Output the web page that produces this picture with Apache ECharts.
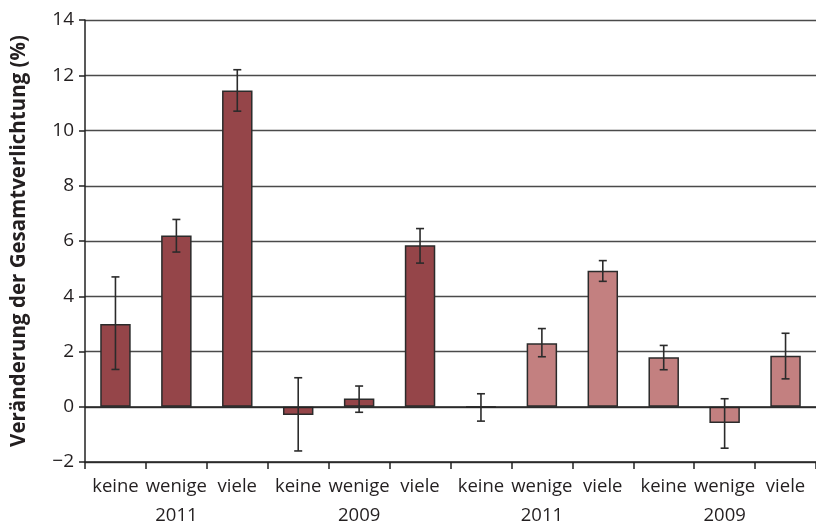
<!DOCTYPE html>
<html>
<head>
<meta charset="utf-8">
<script src="https://cdn.jsdelivr.net/npm/echarts@6/dist/echarts.min.js"></script>
<style>html,body{margin:0;padding:0;background:#fff;}#c{width:816px;height:527px;}</style>
</head>
<body>
<div id="c"></div>
<script>
var categories = ['keine','wenige','viele','keine','wenige','viele','keine','wenige','viele','keine','wenige','viele'];
var years = ['2011','2009','2011','2009'];
var values = [3.0, 6.2, 11.45, -0.3, 0.3, 5.85, -0.02, 2.3, 4.92, 1.79, -0.59, 1.85];
var errLow = [1.35, 5.6, 10.7, -1.6, -0.2, 5.2, -0.52, 1.81, 4.54, 1.34, -1.5, 1.01];
var errHigh = [4.7, 6.78, 12.2, 1.05, 0.75, 6.45, 0.47, 2.83, 5.29, 2.22, 0.29, 2.66];
var darkColor = '#954549';
var lightColor = '#c38080';

var barData = values.map(function (v, i) {
  return { value: v, itemStyle: { color: i < 6 ? darkColor : lightColor } };
});
var errData = values.map(function (v, i) { return [i, errLow[i], errHigh[i]]; });

var textColor = '#231f20';
var font = 'Open Sans';
var chart = echarts.init(document.getElementById('c'));
chart.setOption({
  animation: false,
  grid: { left: 85, top: 20, bottom: 65, width: 733 },
  xAxis: [{
    type: 'category',
    data: categories,
    position: 'bottom',
    axisLine: { onZero: false, lineStyle: { color: '#222', width: 1.5 } },
    axisTick: { show: true, alignWithLabel: false, length: 7, lineStyle: { color: '#222', width: 1.5 } },
    axisLabel: { color: textColor, fontSize: 18.5, fontFamily: font, margin: 15, interval: 0 },
    splitLine: { show: false }
  }, {
    type: 'category',
    data: years,
    position: 'bottom',
    offset: 29,
    axisLine: { show: false },
    axisTick: { show: false },
    axisLabel: { color: textColor, fontSize: 18.5, fontFamily: font, margin: 15, interval: 0 },
    splitLine: { show: false }
  }],
  yAxis: {
    type: 'value',
    min: -2, max: 14, interval: 2,
    name: 'Veränderung der Gesamtverlichtung (%)',
    nameLocation: 'middle',
    nameGap: 55,
    nameRotate: 90,
    nameTextStyle: { color: textColor, fontSize: 20.5, fontWeight: 'bold', fontFamily: font },
    axisLine: { show: true, lineStyle: { color: '#222', width: 1.5 } },
    axisTick: { show: true, length: 6, lineStyle: { color: '#222', width: 1.5 } },
    axisLabel: {
      color: textColor, fontSize: 19, fontFamily: font, margin: 11,
      formatter: function (v) { return String(v).replace('-', '\u2212'); }
    },
    splitLine: { show: true, lineStyle: { color: '#4a4a4a', width: 1.3 } }
  },
  series: [{
    type: 'bar',
    data: barData,
    barWidth: '50%',
    itemStyle: { borderColor: '#2b2b2b', borderWidth: 1.5 },
    markLine: {
      silent: true, symbol: 'none', label: { show: false },
      lineStyle: { color: '#222', width: 1.6, type: 'solid' },
      data: [{ yAxis: 0 }]
    },
    z: 2
  }, {
    type: 'custom',
    data: errData,
    z: 5,
    renderItem: function (params, api) {
      var i = api.value(0);
      var lo = api.coord([i, api.value(1)]);
      var hi = api.coord([i, api.value(2)]);
      var cap = 4;
      var st = { stroke: '#2b2b2b', lineWidth: 1.6 };
      return {
        type: 'group',
        children: [
          { type: 'line', shape: { x1: lo[0], y1: lo[1], x2: hi[0], y2: hi[1] }, style: st },
          { type: 'line', shape: { x1: lo[0] - cap, y1: lo[1], x2: lo[0] + cap, y2: lo[1] }, style: st },
          { type: 'line', shape: { x1: hi[0] - cap, y1: hi[1], x2: hi[0] + cap, y2: hi[1] }, style: st }
        ]
      };
    }
  }]
});
</script>
</body>
</html>
